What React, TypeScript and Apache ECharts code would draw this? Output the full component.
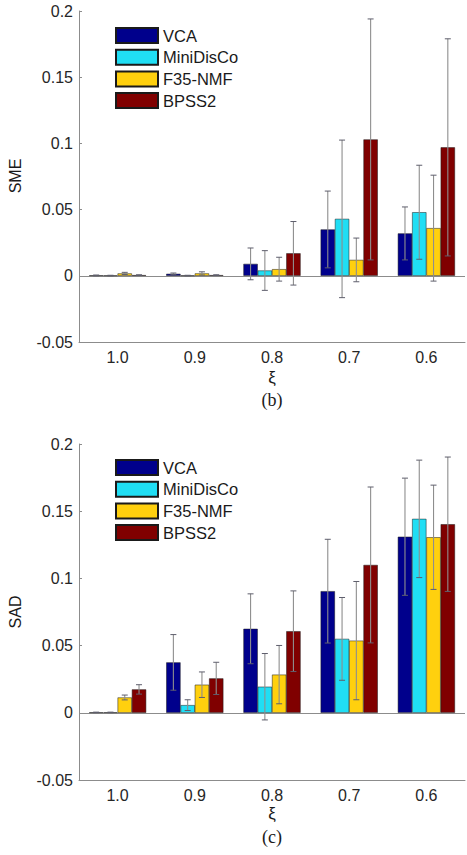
import React, { useEffect, useRef } from "react";
import * as echarts from "echarts";

const categories = ["1.0", "0.9", "0.8", "0.7", "0.6"];
const seriesNames = ["VCA", "MiniDisCo", "F35-NMF", "BPSS2"];
const colors = ["#00008c", "#20def4", "#ffd00e", "#800000"];

// SME panel (b)
const smeVCA = [0.0003, 0.0015, 0.009, 0.035, 0.032];
const smeVCAErr = [0.0003, 0.0006, 0.012, 0.029, 0.02];
const smeMini = [0.0002, 0.0002, 0.004, 0.043, 0.048];
const smeMiniErr = [0.0002, 0.0002, 0.015, 0.0595, 0.0355];
const smeF35 = [0.0018, 0.0018, 0.005, 0.012, 0.036];
const smeF35Err = [0.0008, 0.0012, 0.009, 0.0165, 0.04];
const smeBPSS = [0.0005, 0.0005, 0.017, 0.103, 0.097];
const smeBPSSErr = [0.0003, 0.0003, 0.024, 0.091, 0.082];

// SAD panel (c)
const sadVCA = [0.0003, 0.0375, 0.0625, 0.0905, 0.131];
const sadVCAErr = [0.0002, 0.0207, 0.026, 0.0386, 0.0436];
const sadMini = [0.0003, 0.0057, 0.0194, 0.055, 0.1443];
const sadMiniErr = [0.0002, 0.004, 0.0247, 0.0308, 0.0437];
const sadF35 = [0.0114, 0.0209, 0.0284, 0.0537, 0.1306];
const sadF35Err = [0.0018, 0.0095, 0.0217, 0.044, 0.0388];
const sadBPSS = [0.0174, 0.0256, 0.0607, 0.11, 0.1403];
const sadBPSSErr = [0.0035, 0.012, 0.03, 0.058, 0.05];

const yTicksMin = -0.05;
const yTicksMax = 0.2;
const yTickStep = 0.05;

const FONT = "'Liberation Sans', Arial, sans-serif";
const GAP = 0.26;

function buildPanel(
  idx: number,
  values: number[][],
  errors: number[][]
): any[] {
  const out: any[] = [];
  values.forEach((vals, s) => {
    out.push({
      type: "bar",
      name: seriesNames[s],
      xAxisIndex: idx,
      yAxisIndex: idx,
      data: vals,
      barGap: "0%",
      barCategoryGap: GAP * 100 + "%",
      itemStyle: { color: colors[s], borderColor: "#1a1a1a", borderWidth: 0.5 },
      z: 2,
      markLine:
        s === 0
          ? {
              silent: true,
              symbol: "none",
              label: { show: false },
              lineStyle: { color: "#8c8c8c", width: 1, type: "solid" },
              data: [{ yAxis: 0 }],
              z: 1,
            }
          : undefined,
    });
  });
  values.forEach((vals, s) => {
    out.push({
      type: "custom",
      name: seriesNames[s] + " err",
      xAxisIndex: idx,
      yAxisIndex: idx,
      z: 5,
      silent: true,
      data: vals.map((v, i) => [i, v, errors[s][i]]),
      renderItem: (params: any, api: any) => {
        const ci = api.value(0);
        const v = api.value(1);
        const e = api.value(2);
        const band = api.size([1, 0])[0];
        const bw = (band * (1 - GAP)) / 4;
        const base = api.coord([ci, 0]);
        const cx = base[0] + (s - 1.5) * bw;
        const top = api.coord([ci, v + e])[1];
        const bot = api.coord([ci, v - e])[1];
        const cap = 3;
        return {
          type: "group",
          children: [
            {
              type: "line",
              shape: { x1: cx, y1: top, x2: cx, y2: bot },
              style: { stroke: "#8e8e8e", lineWidth: 1.1 },
            },
            {
              type: "line",
              shape: { x1: cx - cap, y1: top, x2: cx + cap, y2: top },
              style: { stroke: "#5e5e6c", lineWidth: 1 },
            },
            {
              type: "line",
              shape: { x1: cx - cap, y1: bot, x2: cx + cap, y2: bot },
              style: { stroke: "#5e5e6c", lineWidth: 1 },
            },
          ],
        };
      },
    });
  });
  return out;
}

export default function App() {
  const ref = useRef<HTMLDivElement>(null);
  useEffect(() => {
    document.body.style.margin = "0";
    if (!ref.current) return;
    const chart = echarts.init(ref.current, null, { renderer: "svg" });

    const grids = [
      { left: 79, top: 11, width: 386, height: 331 },
      { left: 79, top: 444, width: 386, height: 336 },
    ];

    const xAxes = grids.map((_, i) => ({
      type: "category",
      gridIndex: i,
      data: categories,
      axisLine: { onZero: false, lineStyle: { color: "#8c8c8c", width: 1 } },
      axisTick: { show: false },
      axisLabel: { color: "#262626", fontSize: 16, fontFamily: FONT, margin: 7 },
    }));

    const yAxes = grids.map((_, i) => ({
      type: "value",
      gridIndex: i,
      min: yTicksMin,
      max: yTicksMax,
      interval: yTickStep,
      axisLine: { show: true, lineStyle: { color: "#8c8c8c", width: 1 } },
      axisTick: { show: true, inside: true, length: 3, lineStyle: { color: "#8c8c8c" } },
      splitLine: { show: false },
      axisLabel: {
        color: "#262626",
        fontSize: 16,
        fontFamily: FONT,
        margin: 6,
        formatter: (v: number) => String(Number(v.toFixed(3))),
      },
    }));

    const legendCommon = {
      orient: "vertical",
      left: 115,
      padding: 0,
      itemWidth: 42,
      itemHeight: 15,
      itemGap: 4.7,
      icon: "rect",
      data: seriesNames,
      textStyle: { color: "#1a1a1a", fontSize: 16.5, lineHeight: 16, fontFamily: FONT },
      selectedMode: false,
    };

    const series = [
      ...buildPanel(
        0,
        [smeVCA, smeMini, smeF35, smeBPSS],
        [smeVCAErr, smeMiniErr, smeF35Err, smeBPSSErr]
      ),
      ...buildPanel(
        1,
        [sadVCA, sadMini, sadF35, sadBPSS],
        [sadVCAErr, sadMiniErr, sadF35Err, sadBPSSErr]
      ),
    ];

    const txt = (
      text: string,
      x: number,
      y: number,
      size: number,
      family: string,
      rotation = 0
    ) => ({
      type: "text",
      x,
      y,
      rotation,
      style: {
        text,
        fill: "#1a1a1a",
        font: `${size}px ${family}`,
        textAlign: "center",
        textVerticalAlign: "middle",
      },
    });

    chart.setOption({
      animation: false,
      backgroundColor: "#ffffff",
      grid: grids,
      xAxis: xAxes,
      yAxis: yAxes,
      legend: [
        { ...legendCommon, top: 27 },
        { ...legendCommon, top: 459 },
      ],
      series,
      graphic: [
        txt("SME", 15, 176, 16, FONT, Math.PI / 2),
        txt("SAD", 15, 612, 16, FONT, Math.PI / 2),
        txt("ξ", 272, 377, 17, FONT),
        txt("ξ", 272, 813, 17, FONT),
        txt("(b)", 272, 400, 18, "'Liberation Serif', 'Times New Roman', serif"),
        txt("(c)", 272, 837, 18, "'Liberation Serif', 'Times New Roman', serif"),
      ],
    });
    return () => chart.dispose();
  }, []);
  return <div ref={ref} style={{ width: 467, height: 855 }} />;
}
